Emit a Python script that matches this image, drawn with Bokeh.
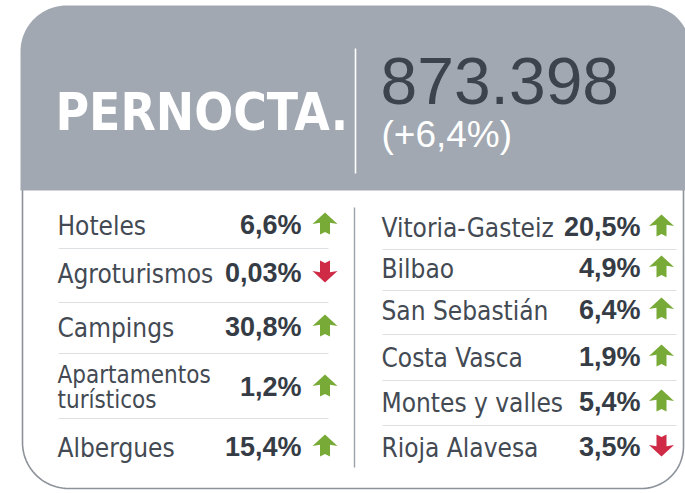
import numpy as np
from bokeh.plotting import figure
from bokeh.models import Range1d
from bokeh.core.properties import value
from bokeh.embed import file_html
from bokeh.resources import INLINE

# ---------------- data ----------------
title = "PERNOCTA."
total = "873.398"
total_change = "(+6,4%)"

left_labels = ["Hoteles", "Agroturismos", "Campings", "Apartamentos\nturísticos", "Albergues"]
left_values = [6.6, 0.03, 30.8, 1.2, 15.4]
left_value_labels = ["6,6%", "0,03%", "30,8%", "1,2%", "15,4%"]
left_trend = ["up", "down", "up", "up", "up"]

right_labels = ["Vitoria-Gasteiz", "Bilbao", "San Sebastián", "Costa Vasca", "Montes y valles", "Rioja Alavesa"]
right_values = [20.5, 4.9, 6.4, 1.9, 5.4, 3.5]
right_value_labels = ["20,5%", "4,9%", "6,4%", "1,9%", "5,4%", "3,5%"]
right_trend = ["up", "up", "up", "up", "up", "down"]

# ---------------- layout (pixel space) ----------------
HEADER_GRAY = "#a1a8b1"
DARK = "#3d434c"
LABEL_C = "#434a53"
VALUE_C = "#363c45"
GREEN = "#78aa37"
RED = "#cf2b47"
SEP_C = "#dde0e3"
COND = "DejaVu Sans Condensed, DejaVu Sans, Liberation Sans, sans-serif"
SANS = "Liberation Sans, Arial, sans-serif"
BL = 0.375  # baseline correction factor (em)

left_base = [235, 283, 337, 397, 457]
left_seps = [248, 302, 353, 418]
right_base = [237, 278, 320, 367, 412, 457]
right_seps = [249, 290, 334, 380, 425]

W, H = 685, 493
p = figure(width=W, height=H, x_range=Range1d(0, W), y_range=Range1d(H, 0),
           output_backend="svg", toolbar_location=None, min_border=0)
p.axis.visible = False
p.grid.visible = False
p.outline_line_color = None
p.background_fill_color = "white"
p.border_fill_color = "white"


def rounded(left, right, top, bottom, r_tl, r_tr, r_br, r_bl, n=24):
    xs, ys = [], []
    def arc(cx, cy, r, a0, a1):
        if r == 0:
            xs.append(cx); ys.append(cy); return
        t = np.linspace(a0, a1, n)
        xs.extend(cx + r * np.cos(t)); ys.extend(cy + r * np.sin(t))
    arc(left + r_tl, top + r_tl, r_tl, np.pi, 1.5 * np.pi)
    arc(right - r_tr, top + r_tr, r_tr, 1.5 * np.pi, 2 * np.pi)
    arc(right - r_br, bottom - r_br, r_br, 0, 0.5 * np.pi)
    arc(left + r_bl, bottom - r_bl, r_bl, 0.5 * np.pi, np.pi)
    return list(xs), list(ys)


def txt(x, y, t, font, size, color, style="normal", align="left"):
    p.text(x=x, y=[v - BL * size for v in y], text=t, text_font=value(font),
           text_font_style=style, text_font_size=f"{size}px", text_color=color,
           text_align=align, text_baseline="alphabetic")

# body card
bx, by = rounded(22, 683, 186, 488, 0, 0, 42, 46)
p.patch(bx, by, fill_color="white", line_color="#8c9299", line_width=1.6)
# header
hx, hy = rounded(20, 690, 5, 190, 46, 44, 0, 0)
p.patch(hx, hy, fill_color=HEADER_GRAY, line_color=None)

# dividers
p.segment(x0=[355], y0=[48], x1=[355], y1=[173], line_color="white", line_width=1.6)
p.segment(x0=[354], y0=[207], x1=[354], y1=[467], line_color="#9aa0a7", line_width=1.4)

# separators
p.segment(x0=[58] * len(left_seps), y0=left_seps, x1=[328] * len(left_seps), y1=left_seps,
          line_color=SEP_C, line_width=1)
p.segment(x0=[382] * len(right_seps), y0=right_seps, x1=[676] * len(right_seps), y1=right_seps,
          line_color=SEP_C, line_width=1)

# header texts
txt([55], [131], [title], COND, 51, "white", style="bold")
txt([380], [105], [total], SANS, 66, DARK)
txt([381], [148], [total_change], SANS, 37, "white")

# table labels
def add_labels(labels, bases, x0):
    for lab, b in zip(labels, bases):
        parts = lab.split("\n")
        if len(parts) == 1:
            txt([x0], [b], [lab], COND, 26, LABEL_C)
        else:
            txt([x0, x0], [b - 14, b + 11], parts, COND, 24, LABEL_C)

add_labels(left_labels, left_base, 57)
add_labels(right_labels, right_base, 381)

txt([301] * len(left_value_labels), left_base, left_value_labels, SANS, 27, VALUE_C,
    style="bold", align="right")
txt([640] * len(right_value_labels), right_base, right_value_labels, SANS, 27, VALUE_C,
    style="bold", align="right")

# arrows
def arrow(cx, cy, up, w=25, h=22):
    hw = w / 2.0
    sw = w * 0.2
    rel = [(0, -h / 2), (hw, -h / 2 + h * 0.52), (sw, -h / 2 + h * 0.47),
           (sw, h / 2), (0, h / 2 - 2.5), (-sw, h / 2), (-sw, -h / 2 + h * 0.47),
           (-hw, -h / 2 + h * 0.52)]
    s = 1 if up else -1
    return [cx + dx for dx, dy in rel], [cy + s * dy for dx, dy in rel]

axs, ays, acol = [], [], []
for tr, b in zip(left_trend, left_base):
    xx, yy = arrow(324.5, b - 12, tr == "up")
    axs.append(xx); ays.append(yy); acol.append(GREEN if tr == "up" else RED)
for tr, b in zip(right_trend, right_base):
    xx, yy = arrow(661, b - 12, tr == "up")
    axs.append(xx); ays.append(yy); acol.append(GREEN if tr == "up" else RED)
p.patches(xs=axs, ys=ays, fill_color=acol, line_color=None)

open("out.html", "w").write(file_html(p, INLINE))
